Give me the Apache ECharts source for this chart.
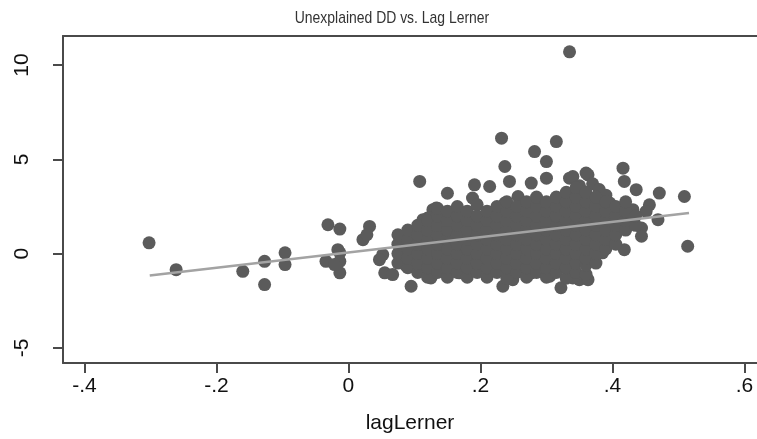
<!DOCTYPE html>
<html>
<head>
<meta charset="utf-8">
<script src="https://cdn.jsdelivr.net/npm/echarts@6/dist/echarts.min.js"></script>
<style>html,body{margin:0;padding:0;background:#fff;}#chart{width:757px;height:439px;}</style>
</head>
<body>
<div id="chart"></div>
<script>
var chartTitle = 'Unexplained DD vs. Lag Lerner';
var xAxisName = 'lagLerner';
var xTickValues = [-0.4, -0.2, 0, 0.2, 0.4, 0.6];
var xTickLabels = ['-.4', '-.2', '0', '.2', '.4', '.6'];
var yTickValues = [-5, 0, 5, 10];
var yTickLabels = ['-5', '0', '5', '10'];

// scattered observations (lagLerner, unexplained DD)
var outerPoints = [
  [-0.302,0.57],[-0.261,-0.85],[-0.160,-0.94],[-0.127,-0.41],[-0.127,-1.64],[-0.096,0.04],[-0.096,-0.58],
  [-0.031,1.53],[-0.013,1.30],[-0.016,0.21],[-0.013,0.04],[-0.034,-0.41],[-0.013,-0.41],[-0.013,-1.02],[-0.021,-0.58],
  [0.032,1.44],[0.022,0.74],[0.028,1.0],
  [0.052,-0.05],[0.047,-0.32],[0.055,-1.02],[0.067,-1.11],[0.095,-1.73],[0.077,0.92],[0.093,1.10],[0.113,1.80],
  [0.128,2.33],[0.088,-0.67],[0.123,-1.20],[0.108,3.83],[0.150,3.20],[0.120,1.89],[0.133,2.42],
  [0.232,6.12],[0.315,5.94],[0.282,5.41],[0.300,4.88],[0.237,4.62],[0.244,3.83],[0.300,4.00],[0.335,4.00],
  [0.191,3.65],[0.214,3.56],[0.188,2.95],[0.257,3.03],[0.277,3.74],[0.237,2.68],
  [0.234,-1.73],[0.249,-1.20],[0.322,-1.81],[0.305,-1.20],[0.125,-1.29],[0.168,-1.02],[0.249,-1.38],
  [0.350,-1.38],[0.363,-1.38],[0.340,-1.29],[0.277,-1.02],
  [0.416,4.53],[0.418,3.83],[0.436,3.39],[0.471,3.21],[0.509,3.03],[0.456,2.59],[0.451,2.24],[0.469,1.80],
  [0.444,1.36],[0.444,0.92],[0.418,0.21],[0.514,0.39],[0.385,0.04],[0.383,0.21],[0.360,4.27],[0.340,4.09],
  [0.363,4.18],[0.400,1.97],[0.396,2.68],[0.431,2.33],[0.383,0.12],[0.335,10.70],
  [0.350,3.60],[0.370,3.70],[0.380,3.40],[0.390,3.10]
];

// dense core of observations
var corePoints = [
  [0.075,-0.5],[0.075,0.0],[0.075,0.5],[0.075,1.0],
  [0.090,-0.75],[0.090,-0.25],[0.090,0.25],[0.090,0.75],[0.090,1.25],
  [0.105,-1.0],[0.105,-0.5],[0.105,0.0],[0.105,0.5],[0.105,1.0],[0.105,1.5],
  [0.120,-1.25],[0.120,-0.75],[0.120,-0.25],[0.120,0.25],[0.120,0.75],[0.120,1.25],[0.120,1.75],
  [0.135,-1.0],[0.135,-0.5],[0.135,0.0],[0.135,0.5],[0.135,1.0],[0.135,1.5],[0.135,2.0],[0.135,2.4],
  [0.150,-1.25],[0.150,-0.75],[0.150,-0.25],[0.150,0.25],[0.150,0.75],[0.150,1.25],[0.150,1.75],[0.150,2.25],
  [0.165,-1.0],[0.165,-0.5],[0.165,0.0],[0.165,0.5],[0.165,1.0],[0.165,1.5],[0.165,2.0],[0.165,2.5],
  [0.180,-1.25],[0.180,-0.75],[0.180,-0.25],[0.180,0.25],[0.180,0.75],[0.180,1.25],[0.180,1.75],[0.180,2.25],
  [0.195,-1.0],[0.195,-0.5],[0.195,0.0],[0.195,0.5],[0.195,1.0],[0.195,1.5],[0.195,2.0],[0.195,2.6],
  [0.210,-1.25],[0.210,-0.75],[0.210,-0.25],[0.210,0.25],[0.210,0.75],[0.210,1.25],[0.210,1.75],[0.210,2.25],
  [0.225,-1.0],[0.225,-0.5],[0.225,0.0],[0.225,0.5],[0.225,1.0],[0.225,1.5],[0.225,2.0],[0.225,2.5],
  [0.240,-1.3],[0.240,-0.75],[0.240,-0.25],[0.240,0.25],[0.240,0.75],[0.240,1.25],[0.240,1.75],[0.240,2.25],[0.240,2.75],
  [0.255,-1.0],[0.255,-0.5],[0.255,0.0],[0.255,0.5],[0.255,1.0],[0.255,1.5],[0.255,2.0],[0.255,2.5],
  [0.270,-1.25],[0.270,-0.75],[0.270,-0.25],[0.270,0.25],[0.270,0.75],[0.270,1.25],[0.270,1.75],[0.270,2.25],[0.270,2.75],
  [0.285,-1.0],[0.285,-0.5],[0.285,0.0],[0.285,0.5],[0.285,1.0],[0.285,1.5],[0.285,2.0],[0.285,2.5],[0.285,3.0],
  [0.300,-1.25],[0.300,-0.75],[0.300,-0.25],[0.300,0.25],[0.300,0.75],[0.300,1.25],[0.300,1.75],[0.300,2.25],[0.300,2.75],
  [0.315,-1.0],[0.315,-0.5],[0.315,0.0],[0.315,0.5],[0.315,1.0],[0.315,1.5],[0.315,2.0],[0.315,2.5],[0.315,3.0],
  [0.330,-1.3],[0.330,-0.75],[0.330,-0.25],[0.330,0.25],[0.330,0.75],[0.330,1.25],[0.330,1.75],[0.330,2.25],[0.330,2.75],[0.330,3.25],
  [0.345,-1.0],[0.345,-0.5],[0.345,0.0],[0.345,0.5],[0.345,1.0],[0.345,1.5],[0.345,2.0],[0.345,2.5],[0.345,3.0],[0.345,3.5],
  [0.360,-1.1],[0.360,-0.6],[0.360,-0.25],[0.360,0.25],[0.360,0.75],[0.360,1.25],[0.360,1.75],[0.360,2.25],[0.360,2.75],[0.360,3.25],
  [0.375,-0.5],[0.375,0.0],[0.375,0.5],[0.375,1.0],[0.375,1.5],[0.375,2.0],[0.375,2.5],[0.375,3.0],
  [0.390,0.25],[0.390,0.75],[0.390,1.25],[0.390,1.75],[0.390,2.25],[0.390,2.75],
  [0.405,0.5],[0.405,1.0],[0.405,1.5],[0.405,2.0],[0.405,2.5],
  [0.420,1.25],[0.420,1.75],[0.420,2.25],[0.420,2.75],
  [0.435,1.5],[0.435,2.0]
];

// linear fit endpoints
var fitX = [-0.301, 0.516];
var fitY = [-1.16, 2.16];

var allPoints = outerPoints.concat(corePoints);
var fitLine = [[fitX[0], fitY[0]], [fitX[1], fitY[1]]];

var chart = echarts.init(document.getElementById('chart'), null, {renderer: 'canvas'});
var axisColor = '#4a4a4a';
var labelFont = 'Liberation Sans, Arial, sans-serif';

chart.setOption({
  animation: false,
  backgroundColor: '#ffffff',
  graphic: [{
    type: 'text', x: 392, y: 18, scaleX: 0.82,
    style: {text: chartTitle, textAlign: 'center', textVerticalAlign: 'middle',
            font: '17px "Liberation Sans", Arial, sans-serif', fill: '#333333'}
  }],
  grid: {left: 63, right: 0, top: 36, bottom: 76, containLabel: false},
  xAxis: [{
    type: 'value', min: -0.4324, max: 0.619, position: 'bottom',
    splitLine: {show: false},
    axisLine: {show: true, onZero: false, lineStyle: {color: axisColor, width: 2}},
    axisTick: {show: true, length: 10, lineStyle: {color: axisColor, width: 2}, customValues: xTickValues},
    axisLabel: {show: true, customValues: xTickValues, fontSize: 21, color: '#111', fontFamily: labelFont, margin: 13,
      formatter: function (v) { var i = xTickValues.indexOf(Math.round(v * 10) / 10); return i >= 0 ? xTickLabels[i] : ''; }},
    name: xAxisName, nameLocation: 'middle', nameGap: 50,
    nameTextStyle: {fontSize: 21, color: '#111', fontFamily: labelFont}
  }, {
    type: 'value', min: -0.4324, max: 0.619, position: 'top',
    splitLine: {show: false}, axisTick: {show: false}, axisLabel: {show: false},
    axisLine: {show: true, onZero: false, lineStyle: {color: axisColor, width: 2}}
  }],
  yAxis: {
    type: 'value', min: -5.80, max: 11.54,
    splitLine: {show: false},
    axisLine: {show: true, onZero: false, lineStyle: {color: axisColor, width: 2}},
    axisTick: {show: true, length: 10, lineStyle: {color: axisColor, width: 2}, customValues: yTickValues},
    axisLabel: {show: true, customValues: yTickValues, rotate: 90, fontSize: 21, color: '#111', fontFamily: labelFont, margin: 30,
      formatter: function (v) { var i = yTickValues.indexOf(Math.round(v)); return i >= 0 ? yTickLabels[i] : ''; }}
  },
  series: [{
    type: 'scatter', xAxisIndex: 0, data: allPoints, symbol: 'circle', symbolSize: 13,
    itemStyle: {color: '#5b5b5b', opacity: 1}, z: 2, silent: true
  }, {
    type: 'line', xAxisIndex: 0, data: fitLine, symbol: 'none',
    lineStyle: {color: '#a3a3a3', width: 2.5}, z: 3, silent: true
  }]
});
</script>
</body>
</html>
